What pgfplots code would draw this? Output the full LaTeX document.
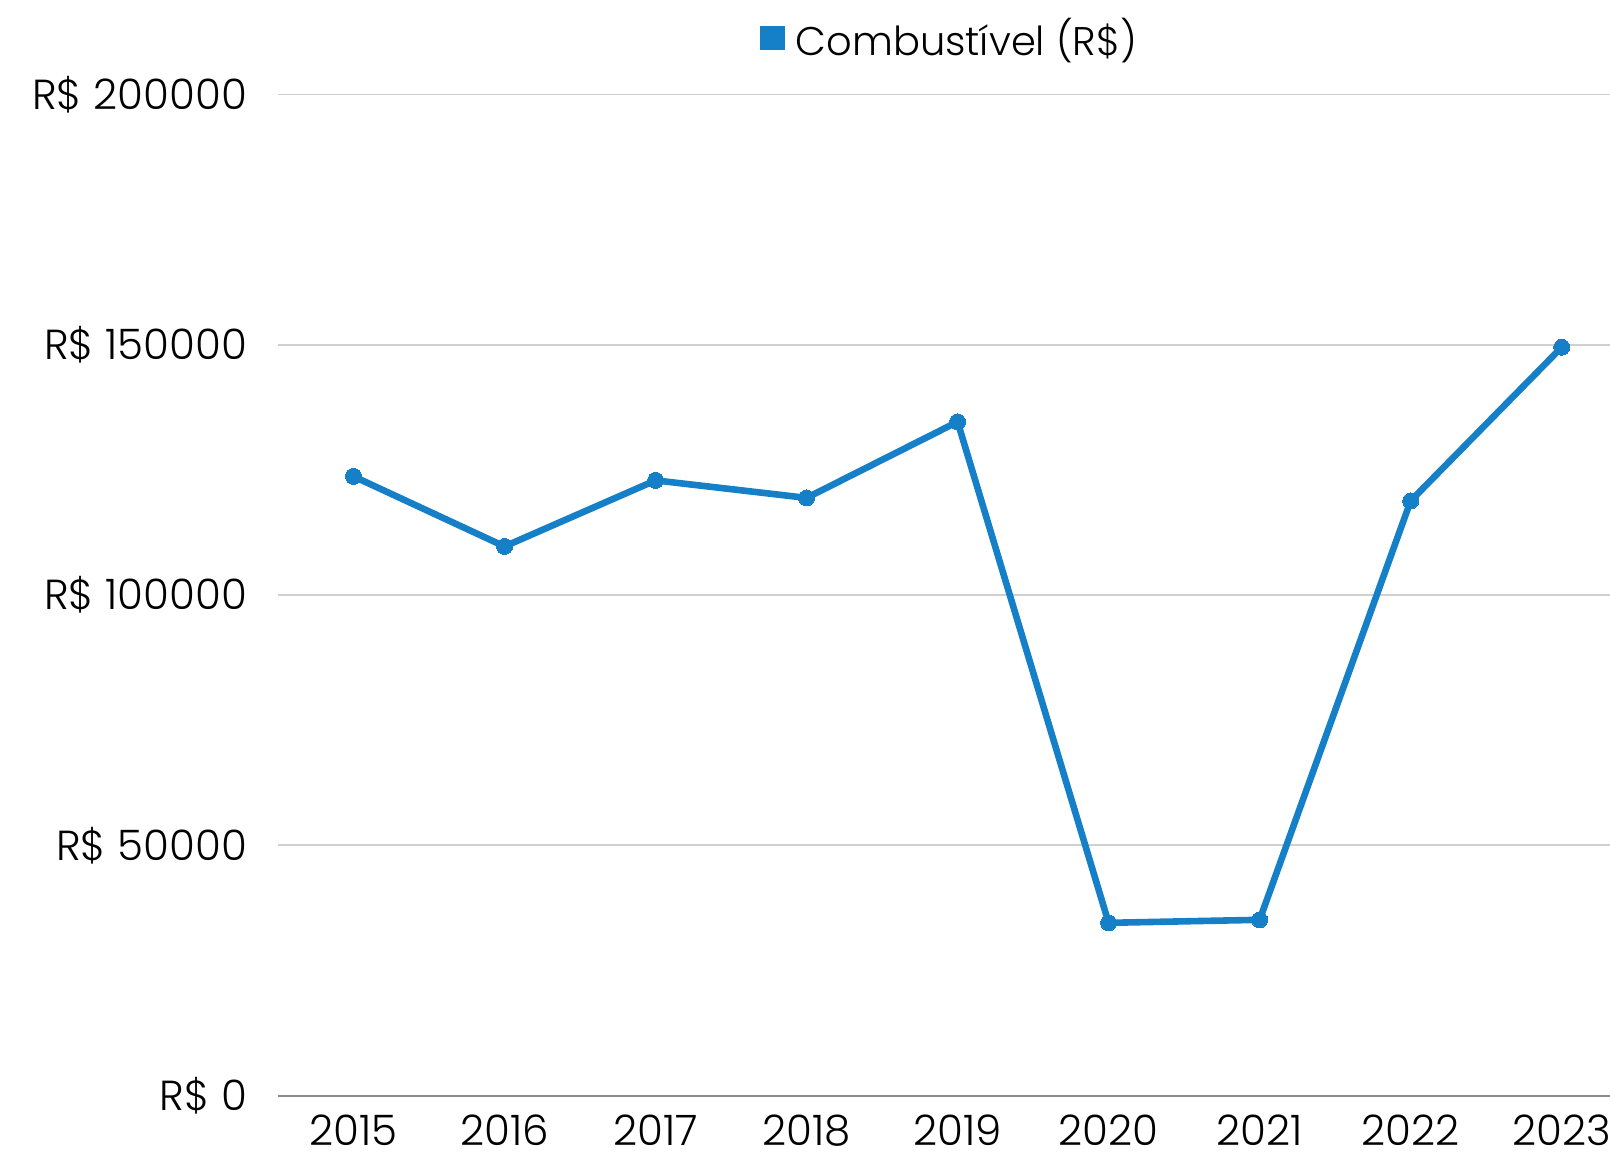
\documentclass[border=0pt]{standalone}
\usepackage{pgfplots}
\pgfplotsset{compat=1.18}
\usepackage{fontspec}
\setmainfont{Poppins Light}
\definecolor{lineblue}{HTML}{1580C8}
\definecolor{gridgray}{HTML}{D0D0D0}
\definecolor{axisgray}{HTML}{8C8C8C}
\begin{document}
\begin{tikzpicture}
\useasboundingbox (-139pt,-30.7pt) rectangle (666pt,547.75pt);
\begin{axis}[
  scale only axis,
  width=666pt, height=500.5pt,
  xmin=-0.5, xmax=8.32,
  ymin=0, ymax=200000,
  scaled y ticks=false,
  axis line style={draw=none},
  axis x line*=bottom,
  ymajorgrids, grid style={gridgray, line width=0.8pt},
  xtick={0,...,8},
  xticklabels={2015,2016,2017,2018,2019,2020,2021,2022,2023},
  ytick={0,50000,100000,150000,200000},
  yticklabels={R\$ 0,R\$ 50000,R\$ 100000,R\$ 150000,R\$ 200000},
  major tick length=0pt,
  tick label style={font=\fontsize{21}{25}\selectfont},
  yticklabel style={xshift=-12pt},
  xticklabel style={yshift=-6pt},
  legend style={at={(0.505,1.0564)}, anchor=center, draw=none, fill=none,
    font=\fontsize{20}{24}\selectfont, legend cell align=left},
  legend image code/.code={\fill[lineblue] (0pt,-4.5pt) rectangle (9pt,4.5pt);
    \path[draw=none, fill=none] (0pt,0pt) -- (14pt,0pt);},
  clip=false,
]
\draw[axisgray, line width=1pt] (axis cs:-0.5,0) -- (axis cs:8.32,0);
\addplot[lineblue, line width=3.3pt, mark=*, mark size=4pt, mark options={fill=lineblue, draw=lineblue, line width=0pt}]
  coordinates {(0,123700) (1,109700) (2,122900) (3,119400) (4,134600) (5,34500) (6,35100) (7,118800) (8,149500)};
\addlegendentry{Combustível (R\$)}
\end{axis}
\end{tikzpicture}
\end{document}
